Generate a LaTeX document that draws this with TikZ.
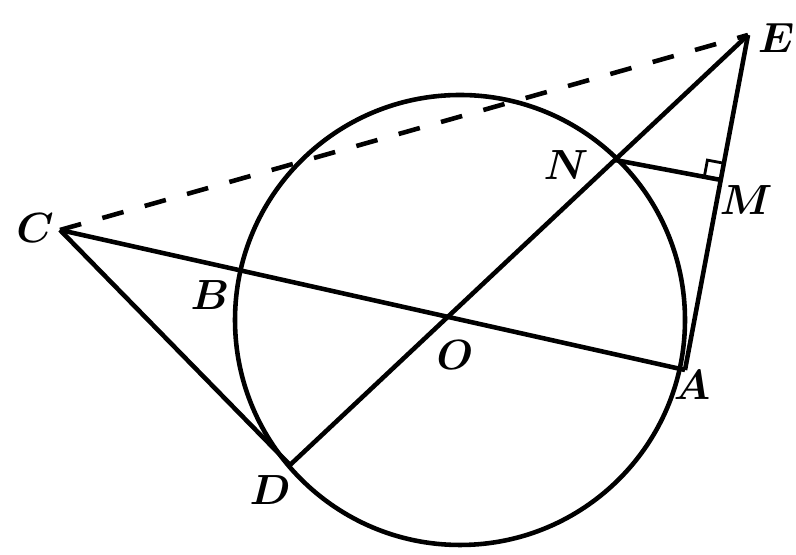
\documentclass[tikz,border=0pt]{standalone}
\usepackage{amsmath}
\usepackage{tikz}
\usetikzlibrary{calc}

\begin{document}
\begin{tikzpicture}[x=0.1mm,y=-0.1mm,font=\large\boldmath,line width=1.3pt]
  \useasboundingbox (0,0) rectangle (796,555);
  % points
  \coordinate (C) at (60,230);
  \coordinate (E) at (748,35);
  \coordinate (A) at (685,370);
  \coordinate (D) at (290,465);
  \coordinate (O) at (447,318);
  \coordinate (N) at (615,160);
  \coordinate (M) at (721,180);
  \coordinate (B) at (236,270);
  \coordinate (Z) at (460,320);
  \draw (Z) circle (225);
  \draw[dash pattern=on 2.2mm off 2.2mm] (C) -- (E);
  \draw (C) -- (A);
  \draw (C) -- (D);
  \draw (D) -- (E);
  \draw (E) -- (A);
  \draw (N) -- (M);
  % right angle at M
  \coordinate (m1) at ($(M)!1.7mm!(N)$);
  \coordinate (m2) at ($(M)!1.7mm!(E)$);
  \draw[line width=0.8pt] (m1) -- ($(m1)+(m2)-(M)$) -- (m2);
  % labels
  \node (lC) at (35,228) {$C$};
  \node (lE) at (776,38) {$E$};
  \node (lN) at (566,165) {$N$};
  \node (lM) at (746,200) {$M$};
  \node (lB) at (210,295) {$B$};
  \node (lO) at (455,355) {$O$};
  \node (lA) at (692,385) {$A$};
  \node (lD) at (270,490) {$D$};
\end{tikzpicture}
\end{document}
